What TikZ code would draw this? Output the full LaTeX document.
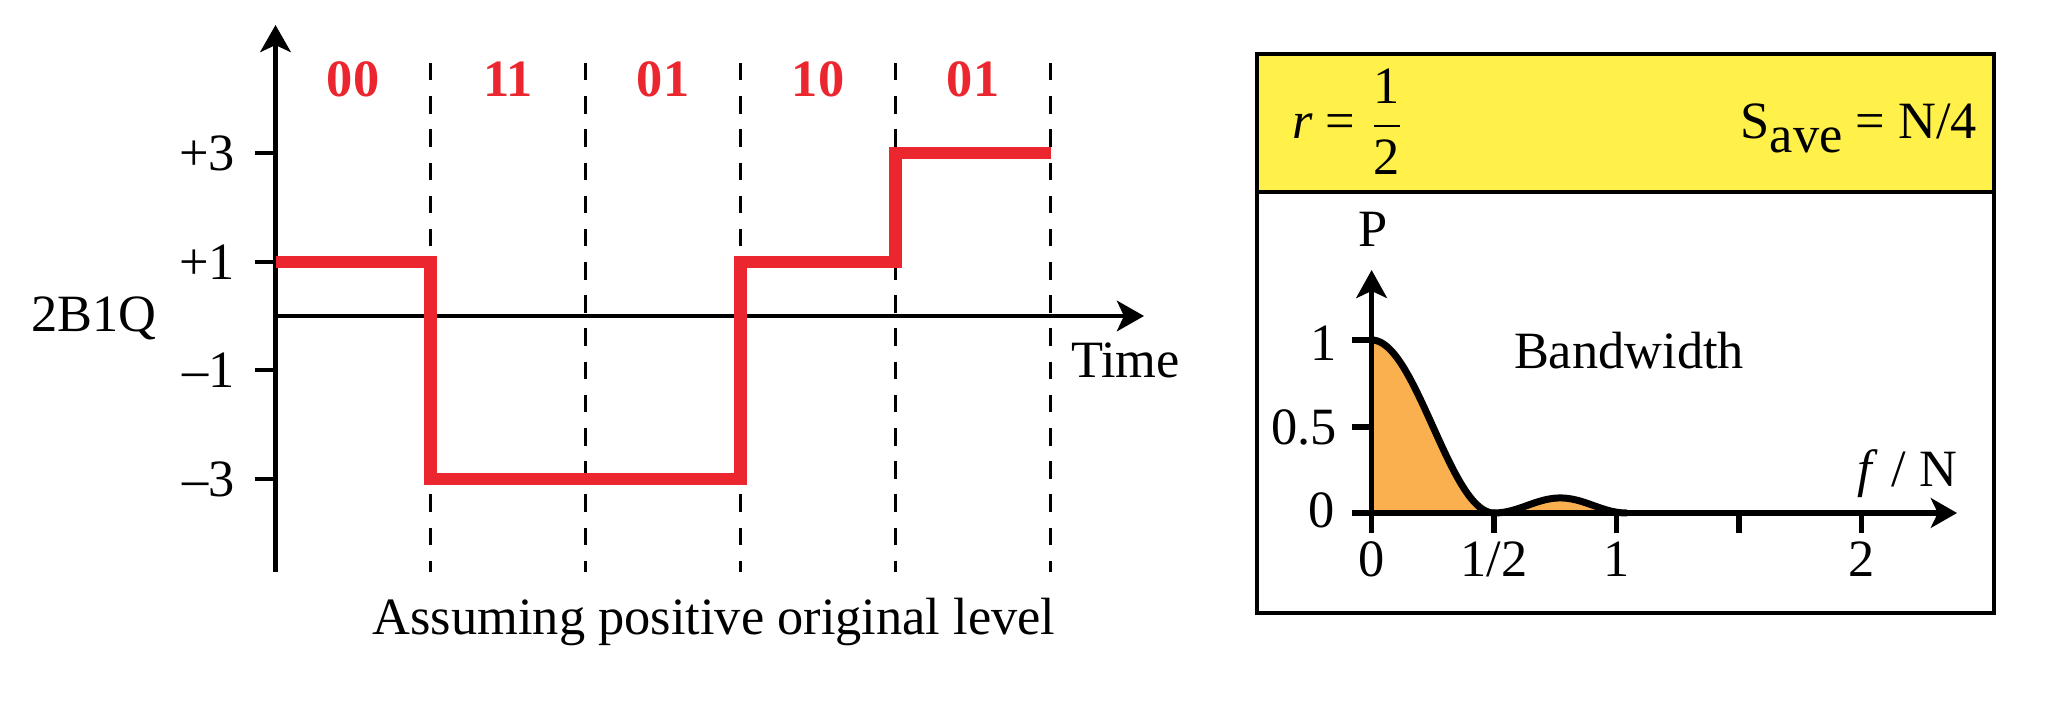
\documentclass[tikz,border=0pt]{standalone}
\usepackage{amsmath}
\usepackage{fontspec}
\setmainfont{Liberation Serif}
\usetikzlibrary{arrows.meta}
\definecolor{sigred}{RGB}{236,38,46}
\definecolor{hdryellow}{RGB}{255,240,74}
\definecolor{lobeorange}{RGB}{250,176,78}
\begin{document}
\begin{tikzpicture}[x=0.229pt,y=-0.229pt,
  font=\fontsize{12}{14}\selectfont,
  axis/.style={line width=1pt, black},
  axarrow/.style={-{Stealth[length=6.2pt,width=7pt,inset=1.6pt]}},
  guide/.style={line width=0.6pt, dash pattern=on 4pt off 3.6pt},
  sig/.style={line width=2.9pt, draw=sigred, line join=miter},
  lbl/.style={inner sep=0pt, outer sep=0pt},
  bits/.style={lbl, anchor=base, text=sigred, font=\fontsize{12}{14}\selectfont\bfseries},
  paxis/.style={line width=1.3pt, black},
  frame/.style={line width=0.9pt, black},
  curve/.style={line width=1.6pt, black, line cap=round, line join=round},
]
\path[use as bounding box, fill=white] (0,0) rectangle (2056,716);

% ---------- left: 2B1Q signal ----------
\coordinate (yb) at (275.5,572);
\coordinate (yt) at (275.5,25);
\coordinate (xo) at (275.5,316);
\coordinate (xe) at (1144,316);

\foreach \k in {1,...,5}{
  \draw[guide] ({275.5+155*\k},63) -- ({275.5+155*\k},572);
}
\draw[axis, axarrow] (yb) -- (yt);
\draw[axis, axarrow] (xo) -- (xe);

\foreach \v/\l [count=\i] in {153/+3, 262/+1, 370/–1, 479/–3}{
  \draw[axis] (255,\v) -- (275.5,\v);
  \node[lbl, anchor=east] (lv\i) at (235,\v) {\l};
}

\foreach \b [count=\i] in {00,11,01,10,01}{
  \node[bits] (bit\i) at ({353+155*(\i-1)},97) {\b};
}

\draw[sig] (275.5,262) -- (430.5,262) -- (430.5,479) -- (740.5,479)
  -- (740.5,262) -- (895.5,262) -- (895.5,153) -- (1050.5,153);

\node[lbl, anchor=base] (code) at (94,332) {2B1Q};
\node[lbl, anchor=base west] (time) at (1071,378) {Time};
\node[lbl, anchor=base] (assume) at (714,635) {Assuming positive original level};

% ---------- right: spectrum panel ----------
\draw[frame, fill=hdryellow] (1257,54) rectangle (1994,192);
\draw[frame] (1257,192) rectangle (1994,613);

\node[lbl, anchor=base west] (ratio) at (1292,139) {\textit{r} = $\dfrac{\text{1}}{\text{2}}$};
\node[lbl, anchor=base east] (save) at (1977,139) {S\raisebox{-3.2pt}{ave} = N/4};

\fill[lobeorange] (1371.6,513)
  -- plot[domain=0:0.5, samples=50] ({1371.6+245*\x},{513-173*pow(cos(180*\x),2)})
  -- plot[domain=0.5:1.04, samples=40] ({1371.6+245*\x},{513-173*0.087*pow(sin(180*(\x-0.5)/0.54),2)})
  -- cycle;

\coordinate (pb) at (1371.6,533);
\coordinate (ptop) at (1371.6,270);
\coordinate (fb) at (1352,513);
\coordinate (fe) at (1957,513);
\draw[paxis, -{Stealth[length=6.4pt,width=7pt,inset=1.6pt]}] (pb) -- (ptop);
\draw[paxis, -{Stealth[length=6pt,width=6.8pt,inset=1.6pt]}] (fb) -- (fe);

\foreach \y in {340,427}{
  \draw[paxis] (1352,\y) -- (1371.6,\y);
}
\foreach \f in {0.5,1,1.5,2}{
  \draw[paxis] ({1371.6+245*\f},513) -- ({1371.6+245*\f},533);
}

\draw[curve] plot[domain=0:0.5, samples=50] ({1371.6+245*\x},{513-173*pow(cos(180*\x),2)});
\draw[curve] plot[domain=0.5:1.04, samples=40] ({1371.6+245*\x},{513-173*0.087*pow(sin(180*(\x-0.5)/0.54),2)});

\node[lbl, anchor=base] (plab) at (1373,247) {P};
\node[lbl, anchor=east] (p1) at (1337,343) {1};
\node[lbl, anchor=east] (p05) at (1337,427) {0.5};
\node[lbl, anchor=east] (p0) at (1335,510) {0};
\node[lbl, anchor=base] (f0) at (1371.6,577) {0};
\node[lbl, anchor=base] (fh) at (1494.1,577) {1/2};
\node[lbl, anchor=base] (f1) at (1616.6,577) {1};
\node[lbl, anchor=base] (f2) at (1861.6,577) {2};
\node[lbl, anchor=base east] (flab) at (1957,487) {\textit{f} / N};
\node[lbl, anchor=base] (bw) at (1629,369) {Bandwidth};
\end{tikzpicture}
\end{document}
